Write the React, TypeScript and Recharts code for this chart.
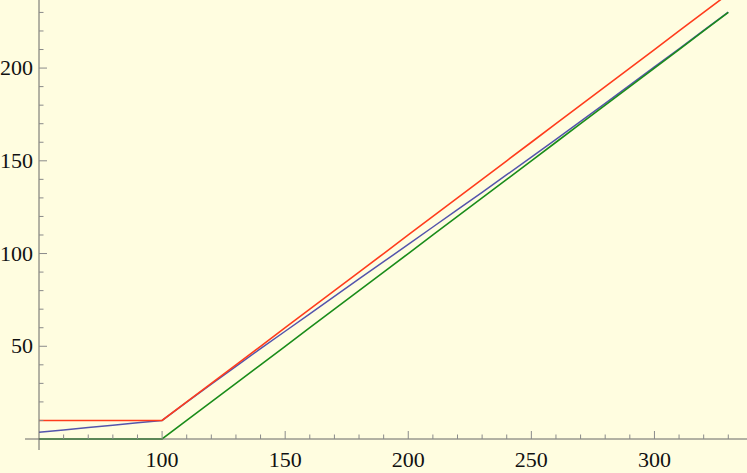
import { Line, LineChart, XAxis, YAxis } from 'recharts'

// x positions (sampled every 10)
const xs = [
  50, 60, 70, 80, 90, 100, 110, 120, 130, 140, 150, 160, 170, 180, 190, 200, 210, 220, 230, 240,
  250, 260, 270, 280, 290, 300, 310, 320, 330,
]
const upper = [
  10, 10, 10, 10, 10, 10, 20, 30, 40, 50, 60, 70, 80, 90, 100, 110, 120, 130, 140, 150, 160, 170,
  180, 190, 200, 210, 220, 230, 240,
]
const middle = [
  3.6, 4.9, 6.2, 7.4, 8.7, 10, 19.9, 29.6, 39.2, 48.7, 58.1, 67.5, 76.9, 86.3, 95.6, 104.9, 114.3,
  123.7, 133.0, 142.5, 152.0, 161.6, 171.3, 181.0, 190.8, 200.6, 210.4, 220.3, 230.2,
]
const lower = [
  0, 0, 0, 0, 0, 0, 10, 20, 30, 40, 50, 60, 70, 80, 90, 100, 110, 120, 130, 140, 150, 160, 170,
  180, 190, 200, 210, 220, 230,
]

const xTicks = [
  50, 60, 70, 80, 90, 100, 110, 120, 130, 140, 150, 160, 170, 180, 190, 200, 210, 220, 230, 240,
  250, 260, 270, 280, 290, 300, 310, 320, 330,
]
const yTicks = [
  10, 20, 30, 40, 50, 60, 70, 80, 90, 100, 110, 120, 130, 140, 150, 160, 170, 180, 190, 200, 210,
  220, 230,
]
const xLabels = [100, 150, 200, 250, 300]
const yLabels = [50, 100, 150, 200]

const data = xs.map((x, i) => ({ x, upper: upper[i], middle: middle[i], lower: lower[i] }))

const axisColor = '#666'
const tickColor = '#8a8a8a'
const font = '"Liberation Serif", "Times New Roman", serif'

function XTick({ x, y, payload }: any) {
  const v = payload.value
  if (v === 50) {
    // axis stubs past the crossing point
    return (
      <g>
        <line x1={x - 14} y1={y} x2={x} y2={y} stroke={axisColor} />
        <line x1={x} y1={y} x2={x} y2={y + 11} stroke={axisColor} />
      </g>
    )
  }
  const major = v % 50 === 0
  return (
    <g>
      <line x1={x} y1={y} x2={x} y2={y - (major ? 8 : 4.5)} stroke={tickColor} />
      {xLabels.includes(v) && (
        <text x={x} y={y + 28} textAnchor="middle" fontFamily={font} fontSize={22} fill="#111">
          {v}
        </text>
      )}
    </g>
  )
}

function YTick({ x, y, payload }: any) {
  const v = payload.value
  const major = v % 50 === 0
  return (
    <g>
      <line x1={x} y1={y} x2={x + (major ? 8 : 4.5)} y2={y} stroke={tickColor} />
      {yLabels.includes(v) && (
        <text x={x - 6} y={y + 7} textAnchor="end" fontFamily={font} fontSize={22} fill="#111">
          {v}
        </text>
      )}
    </g>
  )
}

export default function App() {
  return (
    <div style={{ position: 'absolute', left: 0, top: 0, width: 747, height: 473, background: '#fffde0' }}>
      <LineChart width={747} height={473} data={data} margin={{ top: 0, right: 0, bottom: 0, left: 0 }}>
        <XAxis
          dataKey="x"
          type="number"
          domain={[50, 337.6]}
          ticks={xTicks}
          interval={0}
          height={34}
          tickSize={0}
          tickMargin={0}
          tickLine={false}
          axisLine={{ stroke: axisColor }}
          tick={<XTick />}
        />
        <YAxis
          yAxisId="main"
          type="number"
          domain={[0, 236.7]}
          ticks={yTicks}
          interval={0}
          width={39}
          tickSize={0}
          tickMargin={0}
          tickLine={false}
          axisLine={{ stroke: axisColor }}
          tick={<YTick />}
        />
        <YAxis
          yAxisId="clip"
          orientation="right"
          width={0}
          type="number"
          domain={[0, 236.7]}
          allowDataOverflow
          hide
        />
        <Line
          yAxisId="main"
          dataKey="middle"
          stroke="#5454ac"
          strokeWidth={1.5}
          dot={false}
          isAnimationActive={false}
        />
        <Line
          yAxisId="main"
          dataKey="lower"
          stroke="#1a8c1a"
          strokeWidth={1.6}
          dot={false}
          isAnimationActive={false}
        />
        <Line
          yAxisId="clip"
          dataKey="upper"
          stroke="#ff3c1c"
          strokeWidth={1.6}
          dot={false}
          isAnimationActive={false}
        />
      </LineChart>
    </div>
  )
}
